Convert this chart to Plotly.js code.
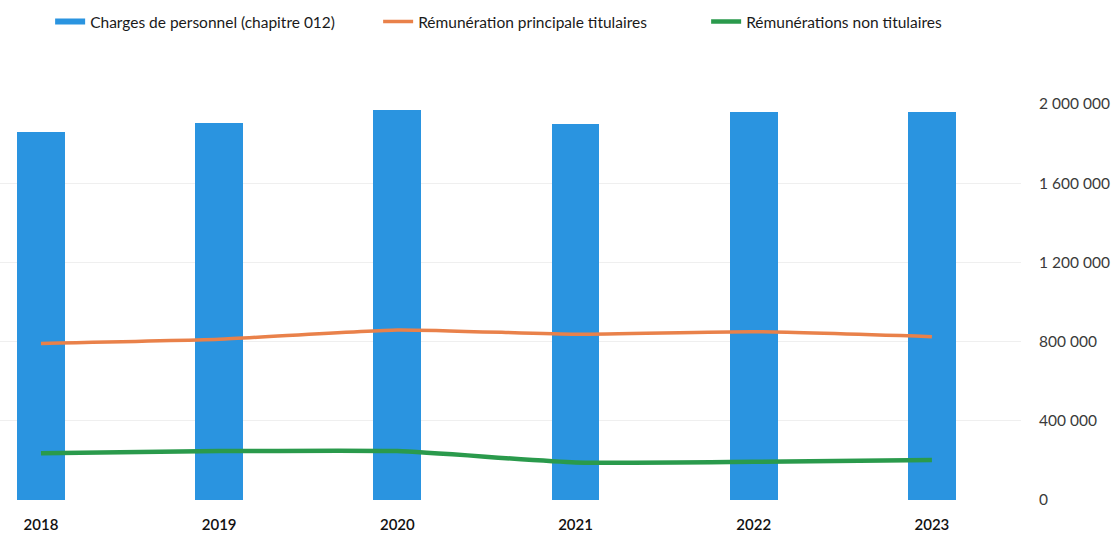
<!DOCTYPE html>
<html>
<head>
<meta charset="utf-8">
<script src="https://cdn.plot.ly/plotly-3.0.1.min.js"></script>
<style>html,body{margin:0;padding:0;background:#fff;}#chart{width:1114px;height:534px;}</style>
</head>
<body>
<div id="chart"></div>
<script>
const years = ['2018', '2019', '2020', '2021', '2022', '2023'];
const chargesPersonnel = [1860000, 1904000, 1970000, 1899000, 1960000, 1960000];
const remunTitulaires = [791000, 812000, 859000, 837000, 850000, 825000];
const remunNonTitulaires = [236000, 247000, 247000, 190000, 193000, 202000];
const yTicks = [0, 400000, 800000, 1200000, 1600000, 2000000];

const seriesNames = ['Charges de personnel (chapitre 012)', 'Rémunération principale titulaires', 'Rémunérations non titulaires'];
const colors = ['#2A94E0', '#E9814A', '#2A9A4C'];
const FONT = 'Lato, "Open Sans", sans-serif';

const traces = [
  {type: 'bar', x: years, y: chargesPersonnel, name: seriesNames[0], marker: {color: colors[0]}, width: 0.268, showlegend: false},
  {type: 'scatter', mode: 'lines', x: [null], y: [null], name: seriesNames[0], line: {color: colors[0], width: 6}, showlegend: true, hoverinfo: 'skip'},
  {type: 'scatter', mode: 'lines', x: years, y: remunTitulaires, name: seriesNames[1], line: {color: colors[1], width: 3.5, shape: 'spline', smoothing: 0.5}},
  {type: 'scatter', mode: 'lines', x: years, y: remunNonTitulaires, name: seriesNames[2], line: {color: colors[2], width: 4.5, shape: 'spline', smoothing: 0.5}}
];

const layout = {
  width: 1114, height: 534,
  margin: {l: 0, r: 93, t: 104, b: 34, pad: 0},
  paper_bgcolor: '#fff', plot_bgcolor: '#fff',
  separators: ', ',
  font: {family: FONT, color: '#404040', size: 14},
  showlegend: true,
  legend: {
    orientation: 'h', xref: 'container', yref: 'container',
    x: 0.045, xanchor: 'left', y: 1 - 22/534, yanchor: 'middle',
    font: {family: FONT, size: 15.5, color: '#1a1a1a'},
    entrywidth: 283, entrywidthmode: 'pixels',
    traceorder: 'normal', bgcolor: 'rgba(0,0,0,0)'
  },
  xaxis: {
    type: 'category', range: [-0.23, 5.5],
    showgrid: false, zeroline: false, showline: false,
    ticks: 'outside', ticklen: 11, tickcolor: 'rgba(0,0,0,0)',
    tickfont: {family: FONT, size: 15, color: '#111', weight: 600}
  },
  yaxis: {
    side: 'right', range: [0, 2000000],
    tickvals: yTicks, tickformat: ',d',
    showgrid: true, gridcolor: '#EFEFEF', gridwidth: 1,
    zeroline: false, showline: false,
    ticks: 'outside', ticklen: 13, tickcolor: 'rgba(0,0,0,0)',
    ticklabelstandoff: 1,
    tickfont: {family: FONT, size: 15.5, color: '#3a3a3a'}
  },
  bargap: 0
};

Plotly.newPlot('chart', traces, layout, {displayModeBar: false, staticPlot: true});
</script>
</body>
</html>
